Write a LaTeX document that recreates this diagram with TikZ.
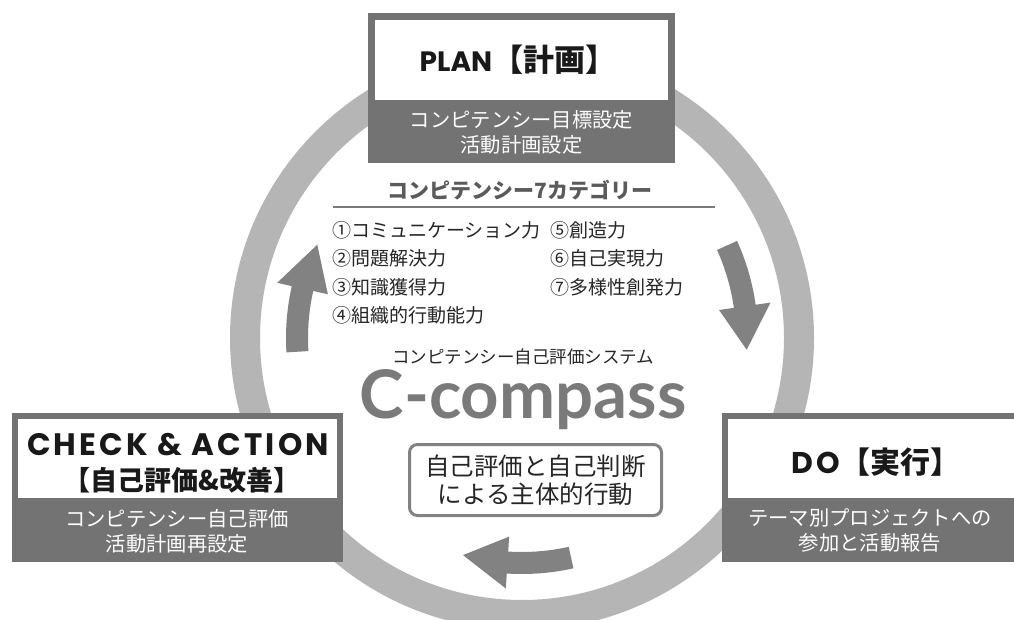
\documentclass[tikz,border=0pt]{standalone}
\usepackage{fontspec}
\setmainfont{Noto Sans CJK JP}
\newfontfamily\latfont{Poppins}
\newfontfamily\latwide[LetterSpace=10]{Poppins}
\newfontfamily\logofont{Lato}
\usetikzlibrary{positioning}

\definecolor{ringgray}{HTML}{B5B5B5}
\definecolor{boxgray}{HTML}{737373}
\definecolor{arrowgray}{HTML}{828282}
\definecolor{logogray}{HTML}{7A7A7A}
\definecolor{textgray}{HTML}{5A5A5A}

\begin{document}
\begin{tikzpicture}[x=1pt,y=-1pt,
  head/.style={text=black!90,font=\fontsize{28}{30}\selectfont\bfseries},
  sub/.style={text=white,align=center,font=\fontsize{20.3}{25}\selectfont},
  item/.style={anchor=west,inner sep=0pt,text=black!85,font=\fontsize{19}{22}\selectfont}]

  \fill[white] (0,0) rectangle (1014,620);
  \useasboundingbox (0,0) rectangle (1014,620);

  % ring and cycle arrows
  \draw[ringgray,line width=30pt] (522,338) circle[radius=277];
  \begin{scope}[shift={(522,338)}]
    \foreach \t/\b/\h in {176.5/192.7/204.5, 335.7/351.9/363, 77.4/93.7/105.2}
      \fill[arrowgray] (\t:236) arc[start angle=\t,end angle=\b,radius=236]
        -- (\b:251) -- (\h:225) -- (\b:199) -- (\b:214)
        arc[start angle=\b,end angle=\t,radius=214] -- cycle;
  \end{scope}

  % PLAN
  \fill[boxgray] (368,13) rectangle (675,163);
  \fill[white] (375,20) rectangle (668,100);
  \node[head] (plan) at (518,60) {{\latfont PLAN}{\fontsize{31}{31}\selectfont【計画】}};
  \node[sub] (plansub) at (521.5,132.5) {コンピテンシー目標設定\\活動計画設定};

  % categories
  \node[text=textgray,font=\fontsize{21}{24}\selectfont\bfseries] (cat) at (520,190) {コンピテンシー7カテゴリー};
  \draw[textgray!80,line width=1.5pt] (333,207) -- (715,207);
  \node[item] (c1) at (332,230) {①コミュニケーション力};
  \node[item] (c2) at (332,258.5) {②問題解決力};
  \node[item] (c3) at (332,287) {③知識獲得力};
  \node[item] (c4) at (332,315.5) {④組織的行動能力};
  \node[item] (c5) at (550,230) {⑤創造力};
  \node[item] (c6) at (550,258.5) {⑥自己実現力};
  \node[item] (c7) at (550,287) {⑦多様性創発力};

  % centre
  \node[text=black!85,font=\fontsize{17.5}{20}\selectfont] (sys) at (523,357) {コンピテンシー自己評価システム};
  \node[anchor=base,text=logogray,font=\logofont\fontsize{67}{70}\selectfont\bfseries] (logo) at (523,418) {C-compass};
  \node[draw=arrowgray,line width=3pt,rounded corners=8pt,minimum width=252pt,minimum height=71pt,
    align=center,text=black!85,font=\fontsize{24.5}{28}\selectfont] (motto) at (535.5,480) {自己評価と自己判断\\による主体的行動};

  % CHECK & ACTION
  \fill[boxgray] (12,413) rectangle (343,562);
  \fill[white] (18,419) rectangle (337,498);
  \node[head,font=\latwide\fontsize{31}{32}\selectfont\bfseries] (check) at (178,445) {CHECK \& ACTION};
  \node[head,font=\fontsize{27}{30}\selectfont\bfseries] (checkjp) at (182,480) {【自己評価\&改善】};
  \node[sub] (checksub) at (177,531.5) {コンピテンシー自己評価\\活動計画再設定};

  % DO
  \fill[boxgray] (722,413) rectangle (1022,562);
  \fill[white] (728,419) rectangle (1016,498);
  \node[head] (do) at (876,462) {{\latwide\fontsize{30}{30}\selectfont DO}{\fontsize{30}{30}\selectfont【実行】}};
  \node[sub] (dosub) at (870,530) {テーマ別プロジェクトへの\\参加と活動報告};

\end{tikzpicture}
\end{document}
